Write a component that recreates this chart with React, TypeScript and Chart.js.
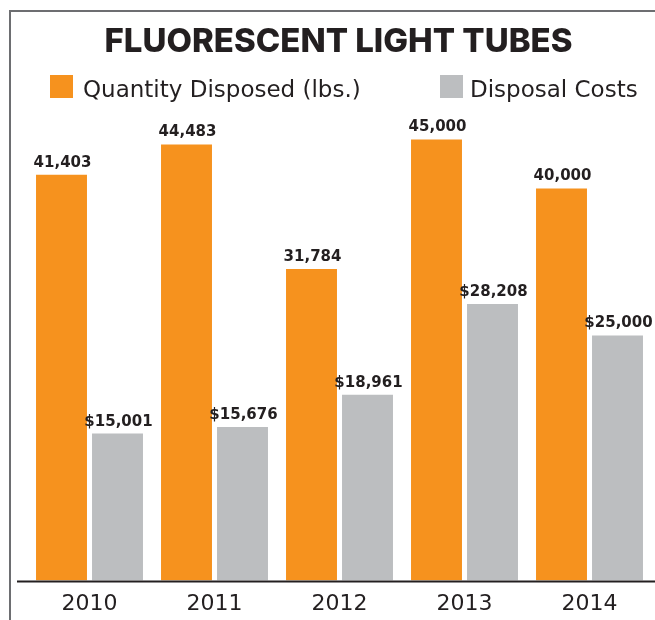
import React, { useEffect, useRef } from 'react';
import { Chart, registerables } from 'chart.js';

Chart.register(...registerables);

const title = 'FLUORESCENT LIGHT TUBES';
const years = ['2010', '2011', '2012', '2013', '2014'];
const quantityDisposed = [41403, 44483, 31784, 45000, 40000];
const disposalCosts = [15001, 15676, 18961, 28208, 25000];
const seriesNames = ['Quantity Disposed (lbs.)', 'Disposal Costs'];
const seriesPrefixes = ['', '$'];

const ORANGE = '#f6921e';
const GRAY = '#bcbec0';
const INK = '#231f20';

const decorPlugin = {
  id: 'decor',
  beforeDraw(chart: any) {
    const ctx = chart.ctx;
    ctx.save();
    ctx.fillStyle = '#ffffff';
    ctx.fillRect(0, 0, chart.width, chart.height);
    // frame
    ctx.strokeStyle = '#6d6e71';
    ctx.lineWidth = 2;
    ctx.beginPath();
    ctx.moveTo(10, chart.height);
    ctx.lineTo(10, 11);
    ctx.lineTo(chart.width, 11);
    ctx.stroke();
    // title
    ctx.fillStyle = INK;
    ctx.font = '800 33px Inter';
    ctx.textAlign = 'center';
    ctx.textBaseline = 'alphabetic';
    ctx.fillText(title, 338.5, 52, 477);
    // legend
    const items = [
      { x: 50, tx: 83, color: ORANGE, label: seriesNames[0] },
      { x: 440, tx: 470, color: GRAY, label: seriesNames[1] },
    ];
    ctx.textAlign = 'left';
    ctx.font = '23px "DejaVu Sans"';
    items.forEach((it) => {
      ctx.fillStyle = it.color;
      ctx.fillRect(it.x, 75, 23, 23);
      ctx.fillStyle = INK;
      ctx.fillText(it.label, it.tx, 97);
    });
    ctx.restore();
  },
  afterDatasetsDraw(chart: any) {
    const ctx = chart.ctx;
    const area = chart.chartArea;
    ctx.save();
    // axis line
    ctx.strokeStyle = INK;
    ctx.lineWidth = 2;
    ctx.beginPath();
    ctx.moveTo(17, area.bottom + 1);
    ctx.lineTo(chart.width, area.bottom + 1);
    ctx.stroke();
    // value labels
    ctx.font = 'bold 15px "DejaVu Sans"';
    ctx.fillStyle = INK;
    ctx.textAlign = 'center';
    ctx.textBaseline = 'alphabetic';
    chart.data.datasets.forEach((ds: any, di: number) => {
      const meta = chart.getDatasetMeta(di);
      meta.data.forEach((el: any, i: number) => {
        const v = ds.data[i];
        const txt = seriesPrefixes[di] + v.toLocaleString('en-US');
        ctx.fillText(txt, el.x + 1, el.y - 8);
      });
    });
    ctx.restore();
  },
};

export default function App() {
  const ref = useRef<HTMLCanvasElement>(null);
  useEffect(() => {
    document.body.style.margin = '0';
    const chart = new Chart(ref.current!, {
      type: 'bar',
      data: {
        labels: years,
        datasets: [
          {
            label: seriesNames[0],
            data: quantityDisposed,
            backgroundColor: ORANGE,
            categoryPercentage: 0.896,
            barPercentage: 0.91,
          },
          {
            label: seriesNames[1],
            data: disposalCosts,
            backgroundColor: GRAY,
            categoryPercentage: 0.896,
            barPercentage: 0.91,
          },
        ],
      },
      options: {
        responsive: false,
        animation: false,
        devicePixelRatio: 1,
        layout: { padding: { top: 110, left: 27, right: 3, bottom: -7 } },
        plugins: {
          legend: { display: false },
          title: { display: false },
          tooltip: { enabled: false },
        },
        scales: {
          x: {
            grid: { display: false, drawTicks: false, tickLength: 0 },
            border: { display: false },
            ticks: {
              color: INK,
              font: { family: '"DejaVu Sans"', size: 22 },
              padding: 10,
            },
          },
          y: {
            display: false,
            min: 0,
            max: 48000,
          },
        },
      },
      plugins: [decorPlugin],
    });
    return () => chart.destroy();
  }, []);
  return <canvas ref={ref} width={655} height={620} style={{ display: 'block' }} />;
}
